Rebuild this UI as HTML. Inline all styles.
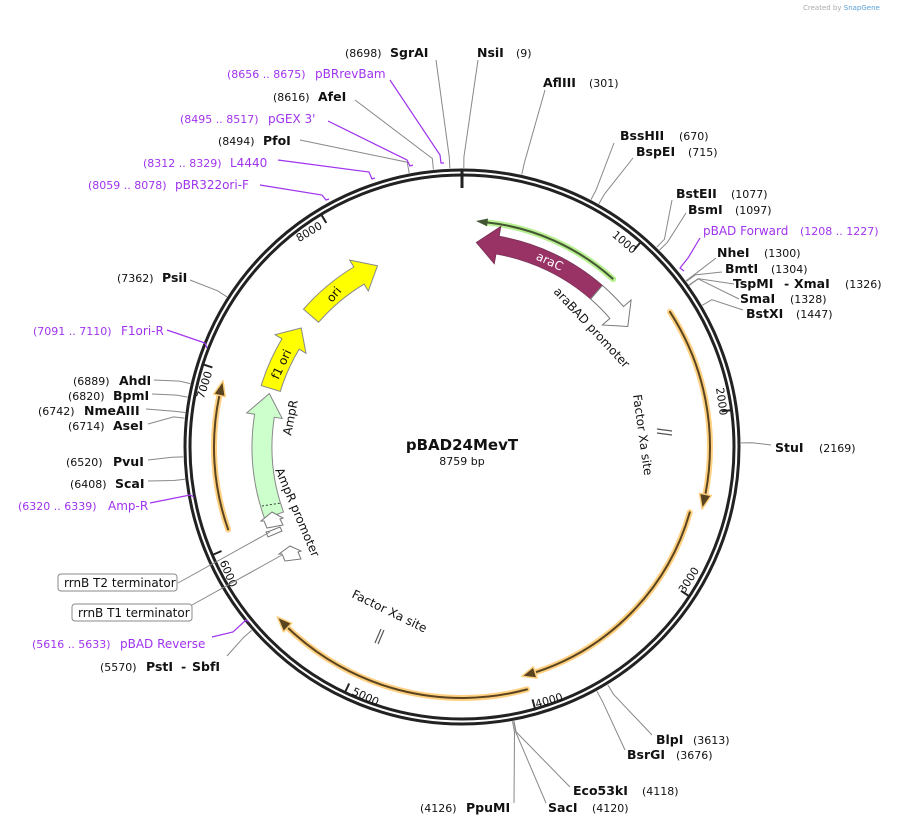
<!DOCTYPE html>
<html><head><meta charset="utf-8"><style>
html,body{margin:0;padding:0;background:#fff}
svg{display:block}
text{font-family:"DejaVu Sans","Liberation Sans",sans-serif;font-size:11px;fill:#111}
.b{font-weight:bold;font-size:12.5px}
.p{fill:#a033ee;font-size:12px}
.pn{fill:#a033ee;font-size:11px}
.ln{stroke:#888;stroke-width:1;fill:none}
.pl{stroke:#a033ee;stroke-width:1.2;fill:none}
.tk{font-size:12px}
</style></head><body>
<svg width="901" height="826" viewBox="0 0 901 826" xmlns="http://www.w3.org/2000/svg">
<text x="803" y="10" style="font-size:7px;fill:#aaa">Created by <tspan style="fill:#5aa0d8">SnapGene</tspan></text>

<circle cx="462" cy="447" r="277" fill="none" stroke="#222" stroke-width="3"/>
<circle cx="462" cy="447" r="272" fill="none" stroke="#222" stroke-width="3"/>
<line x1="462" y1="170" x2="462" y2="188" stroke="#222" stroke-width="3"/>

<g stroke="#222" stroke-width="2">
<line x1="640.8" y1="242" x2="634.2" y2="249.6"/>
<line x1="731.5" y1="410.1" x2="721.6" y2="411.4"/>
<line x1="689.3" y1="596.3" x2="681" y2="590.8"/>
<line x1="535.1" y1="709" x2="532.5" y2="699.4"/>
<line x1="344.9" y1="692.5" x2="349.2" y2="683.5"/>
<line x1="212.4" y1="555" x2="221.5" y2="551"/>
<line x1="202.9" y1="364.3" x2="212.4" y2="367.4"/>
<line x1="321.1" y1="214.3" x2="326.3" y2="222.9"/>
</g>
<g class="tk" text-anchor="middle">
<text transform="translate(622,245) rotate(41)">1000</text>
<text transform="translate(718,402) rotate(82)">2000</text>
<text transform="translate(692,582) rotate(-57)">3000</text>
<text transform="translate(550,704) rotate(-16)">4000</text>
<text transform="translate(364,700) rotate(25)">5000</text>
<text transform="translate(225,575) rotate(67)">6000</text>
<text transform="translate(208,386) rotate(-72)">7000</text>
<text transform="translate(311,235) rotate(-31)">8000</text>
</g>

<g fill="none" stroke-linecap="round">
<path d="M670,311.9 A248,248 0 0 1 705.4,494.3" stroke="#ffd080" stroke-width="6"/>
<path d="M670,311.9 A248,248 0 0 1 705.4,494.3" stroke="#5a4420" stroke-width="2"/>
<path d="M689.8,512.3 A237,237 0 0 1 535.2,672.4" stroke="#ffd080" stroke-width="6"/>
<path d="M689.8,512.3 A237,237 0 0 1 535.2,672.4" stroke="#5a4420" stroke-width="2"/>
<path d="M527,689.4 A251,251 0 0 1 287.6,627.5" stroke="#ffd080" stroke-width="6"/>
<path d="M527,689.4 A251,251 0 0 1 287.6,627.5" stroke="#5a4420" stroke-width="2"/>
<path d="M228.1,529.4 A248,248 0 0 1 219.4,395.4" stroke="#ffd080" stroke-width="6"/>
<path d="M228.1,529.4 A248,248 0 0 1 219.4,395.4" stroke="#5a4420" stroke-width="2"/>
</g>
<g fill="#5a4420" stroke="#ffd080" stroke-width="1.5" stroke-linejoin="round">
<polygon points="711.3,495.5 702.1,509.1 699.5,493.2"/>
<polygon points="537.1,678.1 521.7,676.3 533.4,666.7"/>
<polygon points="283.5,631.9 277.2,616.9 291.8,623.2"/>
<polygon points="213.6,394.2 223,380.7 225.3,396.7"/>
</g>

<path d="M613.2,279.1 A226,226 0 0 0 485.6,222.2" fill="none" stroke="#b8f090" stroke-width="6" stroke-linecap="round"/>
<path d="M613.2,279.1 A226,226 0 0 0 485.6,222.2" fill="none" stroke="#445533" stroke-width="2"/>
<polygon points="488,218.5 476,221 487.1,226.4" fill="#445533"/>

<path d="M602.4,285.4 A214,214 0 0 0 499.2,236.3 L500.9,226.4 L476.3,242.5 L494.3,263.8 L496,254 A196,196 0 0 1 590.6,299 Z" fill="#993366" stroke="#773355" stroke-width="0.8"/>
<text transform="translate(548,265) rotate(25)" text-anchor="middle" style="fill:#fff;font-size:12px">araC</text>

<path d="M602.4,285.4 A214,214 0 0 1 623.5,306.6 L631.1,300 L627.8,326.5 L602.4,325 L609.9,318.4 A196,196 0 0 0 590.6,299 Z" fill="#fff" stroke="#777" stroke-width="1"/>
<text transform="translate(553,292) rotate(47)" style="font-size:12px">araBAD promoter</text>

<path d="M264.7,518.8 A210,210 0 0 1 254.6,414.2 L246.7,412.9 L269.3,393.6 L282.2,418.5 L274.3,417.3 A190,190 0 0 0 283.5,512 Z" fill="#ccffcc" stroke="#888" stroke-width="1"/>
<line x1="262" y1="506" x2="281" y2="503" stroke="#333" stroke-width="1" stroke-dasharray="2,2"/>
<text transform="translate(291,436) rotate(-79)" style="font-size:12px">AmpR</text>
<text transform="translate(275,470) rotate(67)" style="font-size:12px">AmpR promoter</text>

<g fill="#fff" stroke="#777" stroke-width="1">
<polygon points="267,528 264,521 261,521 272,512 283,518 280,519 283,525"/>
<polygon points="268,537 266,532 270,531 280,527 282,531"/>
<polygon points="285,561 282,554 279,554 290,546 301,551 298,552 301,559"/>
</g>

<path d="M261.2,385.6 A210,210 0 0 1 282,338.8 L275.1,334.7 L301.2,328 L306,353.3 L299.1,349.2 A190,190 0 0 0 280.3,391.4 Z" fill="#ffff00" stroke="#888" stroke-width="1"/>
<text transform="translate(285,366) rotate(-65)" text-anchor="middle" style="font-size:12px">f1 ori</text>
<path d="M303.5,309.2 A210,210 0 0 1 353.8,267 L349.7,260.1 L377.5,265.7 L368.3,291 L364.1,284.1 A190,190 0 0 0 318.6,322.3 Z" fill="#ffff00" stroke="#888" stroke-width="1"/>
<text transform="translate(337,297) rotate(-50)" text-anchor="middle" style="font-size:12px">ori</text>

<g stroke="#555" stroke-width="1.2">
<line x1="657" y1="429" x2="672" y2="431"/><line x1="657" y1="433" x2="672" y2="435"/>
<line x1="375" y1="643" x2="381" y2="629"/><line x1="378" y1="644" x2="384" y2="630"/>
</g>
<text transform="translate(633,395) rotate(82)" style="font-size:12px">Factor Xa site</text>
<text transform="translate(351,597) rotate(26)" style="font-size:12px">Factor Xa site</text>

<text x="462" y="450" text-anchor="middle" style="font-weight:bold;font-size:15px">pBAD24MevT</text>
<text x="462" y="465" text-anchor="middle" style="font-size:11px">8759 bp</text>

<g class="ln">
<polyline points="436,60 449.3,157.3 449.8,168.3"/>
<polyline points="478,60 463.9,157 463.8,168"/>
<polyline points="545,90 524.1,163.7 521.8,174.5"/>
<polyline points="614,143 596.1,189.9 591,199.6"/>
<polyline points="633,158 604.3,194.3 598.9,203.9"/>
<polyline points="672,200 664.4,239.3 656.7,247.2"/>
<polyline points="686,213 667.4,242.3 659.6,250"/>
<polyline points="716,258 694.9,274.2 686.1,280.8"/>
<polyline points="722,272 695.4,274.9 686.6,281.4"/>
<polyline points="734,284 698.1,278.6 689.1,285"/>
<polyline points="739,299 698.3,278.9 689.3,285.3"/>
<polyline points="743,310 711.8,299.7 702.3,305.3"/>
<polyline points="771,445 752,442.7 741,442.9"/>
<polyline points="652,735 613.5,694.3 607.8,684.9"/>
<polyline points="625,750 602.2,700.8 596.9,691.2"/>
<polyline points="570,787 516.1,731.9 514,721.1"/>
<polyline points="546,803 515.7,732 513.7,721.1"/>
<polyline points="514,803 514.5,732.2 512.5,721.4"/>
<polyline points="227,656 243.4,637.6 251.7,630.4"/>
<polyline points="148,481 173.9,480.5 184.9,479.2"/>
<polyline points="148,460 172.2,457.3 183.2,456.9"/>
<polyline points="148,424 173.6,416.9 184.5,418.1"/>
<polyline points="146,409 174.2,411.2 185.2,412.5"/>
<polyline points="152,394 176.7,395.1 187.5,397.1"/>
<polyline points="154,380 179.6,381.1 190.3,383.6"/>
<polyline points="190,280 217.6,290.8 226.9,296.8"/>
<polyline points="300,140 407.2,162.2 409.2,173"/>
<polyline points="355,100 432.3,158.5 433.4,169.5"/>
<polyline points="178,583 270,532"/>
<polyline points="192,605 282,555"/>
</g>
<g class="pl">
<polyline points="700,238 688,258 680,268 684,271"/>
<polyline points="212,637 233,632 246,620 249,622"/>
<polyline points="150,503 190,495 194,497"/>
<polyline points="167,330 205,343 207,348"/>
<polyline points="260,185 322,195 326,200 329,199"/>
<polyline points="278,160 369,172 372,179 375,178"/>
<polyline points="328,121 407,160 410,166 413,165"/>
<polyline points="390,80 440,155 441,163 444,163"/>
</g>

<text x="345" y="57">(8698)</text><text class="b" x="390" y="57">SgrAI</text>
<text class="b" x="477" y="57">NsiI</text><text x="516" y="57">(9)</text>
<text class="b" x="543" y="87">AflIII</text><text x="589" y="87">(301)</text>
<text class="b" x="620" y="140">BssHII</text><text x="679" y="140">(670)</text>
<text class="b" x="636" y="156">BspEI</text><text x="688" y="156">(715)</text>
<text class="b" x="676" y="198">BstEII</text><text x="731" y="198">(1077)</text>
<text class="b" x="688" y="214">BsmI</text><text x="735" y="214">(1097)</text>
<text class="p" x="703" y="235">pBAD Forward</text><text class="pn" x="800" y="235">(1208 .. 1227)</text>
<text class="b" x="717" y="257">NheI</text><text x="764" y="257">(1300)</text>
<text class="b" x="725" y="273">BmtI</text><text x="771" y="273">(1304)</text>
<text class="b" x="733" y="288">TspMI</text><text class="b" x="784" y="288">-</text><text class="b" x="794" y="288">XmaI</text><text x="845" y="288">(1326)</text>
<text class="b" x="740" y="303">SmaI</text><text x="790" y="303">(1328)</text>
<text class="b" x="746" y="318">BstXI</text><text x="796" y="318">(1447)</text>
<text class="b" x="775" y="452">StuI</text><text x="819" y="452">(2169)</text>
<text class="b" x="656" y="744">BlpI</text><text x="693" y="744">(3613)</text>
<text class="b" x="627" y="759">BsrGI</text><text x="676" y="759">(3676)</text>
<text class="b" x="573" y="795">Eco53kI</text><text x="642" y="795">(4118)</text>
<text class="b" x="548" y="812">SacI</text><text x="592" y="812">(4120)</text>
<text x="420" y="812">(4126)</text><text class="b" x="466" y="812">PpuMI</text>
<text x="100" y="671">(5570)</text><text class="b" x="146" y="671">PstI</text><text class="b" x="181" y="671">-</text><text class="b" x="192" y="671">SbfI</text>
<text class="pn" x="32" y="648">(5616 .. 5633)</text><text class="p" x="120" y="648">pBAD Reverse</text>
<rect x="58" y="574" width="119" height="17" rx="3" fill="#fff" stroke="#888"/>
<text x="64" y="587" style="font-size:12px">rrnB T2 terminator</text>
<rect x="72" y="604" width="120" height="17" rx="3" fill="#fff" stroke="#888"/>
<text x="78" y="617" style="font-size:12px">rrnB T1 terminator</text>
<text class="pn" x="18" y="510">(6320 .. 6339)</text><text class="p" x="108" y="510">Amp-R</text>
<text x="70" y="488">(6408)</text><text class="b" x="115" y="488">ScaI</text>
<text x="66" y="466">(6520)</text><text class="b" x="113" y="466">PvuI</text>
<text x="68" y="430">(6714)</text><text class="b" x="113" y="430">AseI</text>
<text x="38" y="415">(6742)</text><text class="b" x="84" y="415">NmeAIII</text>
<text x="68" y="400">(6820)</text><text class="b" x="113" y="400">BpmI</text>
<text x="73" y="385">(6889)</text><text class="b" x="119" y="385">AhdI</text>
<text class="pn" x="33" y="335">(7091 .. 7110)</text><text class="p" x="121" y="335">F1ori-R</text>
<text x="117" y="282">(7362)</text><text class="b" x="162" y="282">PsiI</text>
<text class="pn" x="88" y="189">(8059 .. 8078)</text><text class="p" x="175" y="189">pBR322ori-F</text>
<text class="pn" x="143" y="167">(8312 .. 8329)</text><text class="p" x="230" y="167">L4440</text>
<text x="218" y="145">(8494)</text><text class="b" x="263" y="145">PfoI</text>
<text class="pn" x="180" y="123">(8495 .. 8517)</text><text class="p" x="268" y="123">pGEX 3'</text>
<text x="273" y="101">(8616)</text><text class="b" x="318" y="101">AfeI</text>
<text class="pn" x="227" y="78">(8656 .. 8675)</text><text class="p" x="315" y="78">pBRrevBam</text>
</svg>
</body></html>
